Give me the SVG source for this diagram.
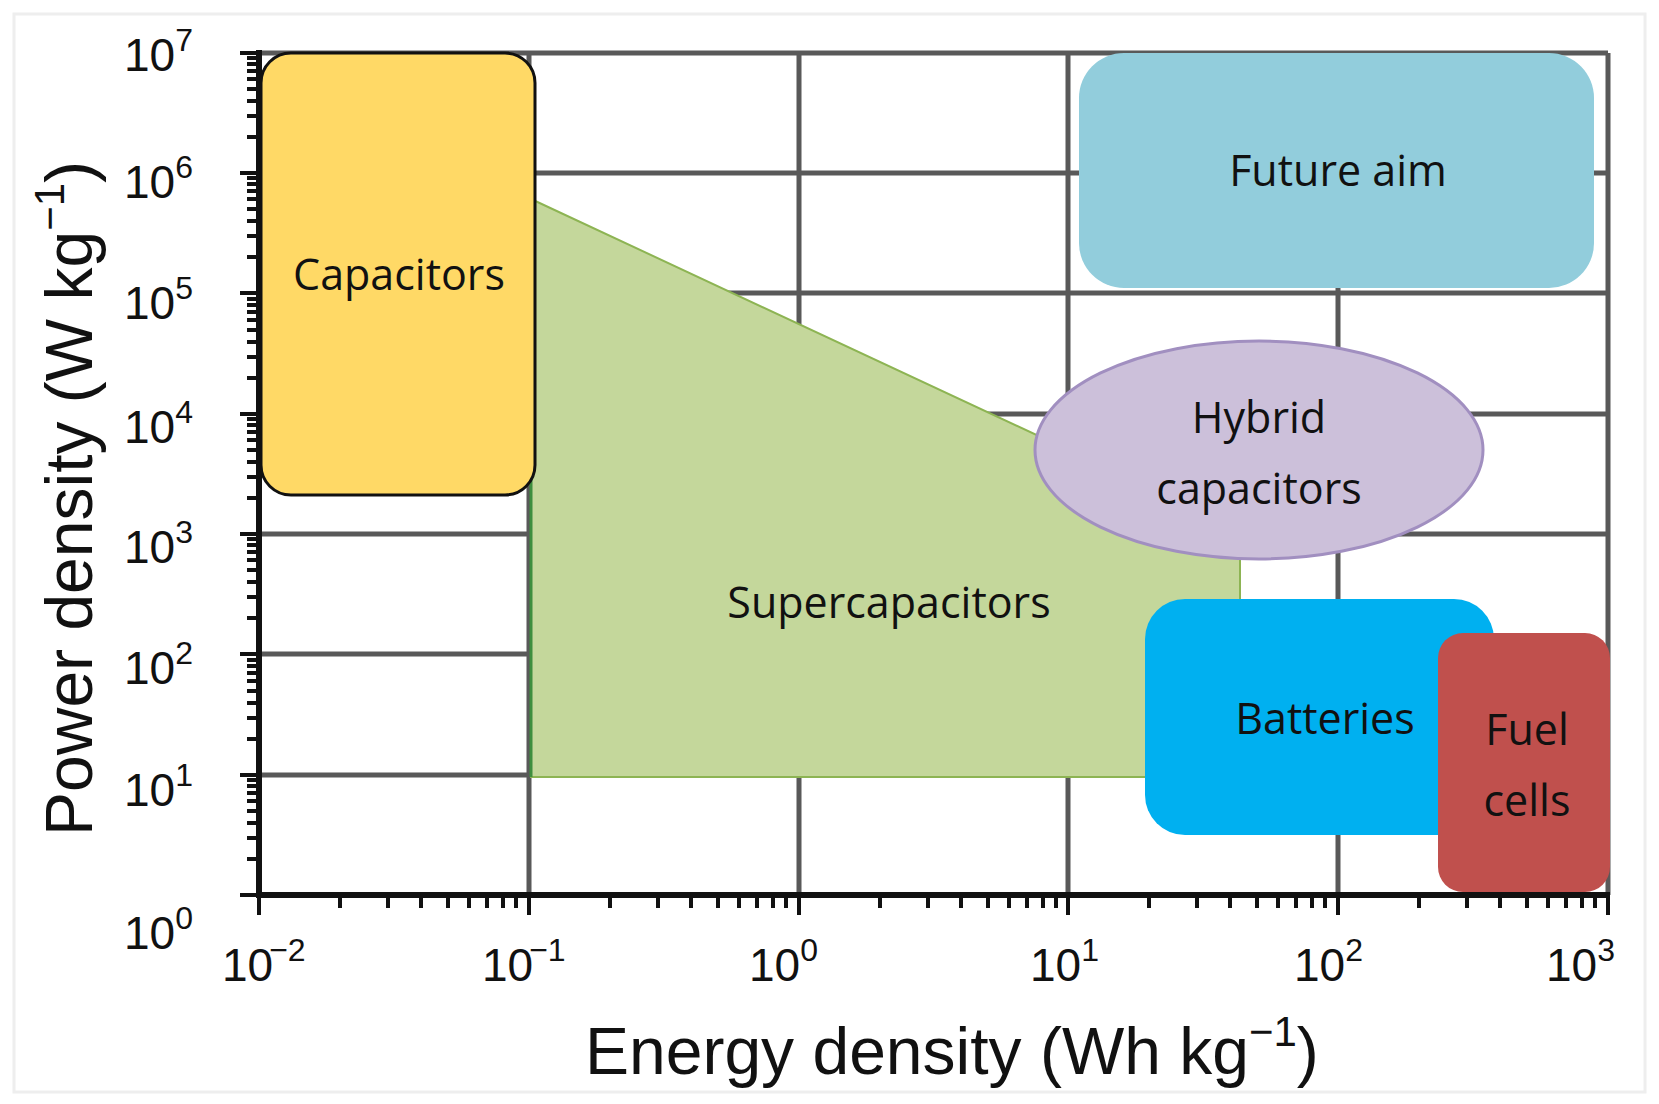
<svg xmlns="http://www.w3.org/2000/svg" width="1659" height="1104" viewBox="0 0 1659 1104">
<style>
.grid{stroke:#595959;stroke-width:5;fill:none}
.axis{stroke:#111;stroke-width:6;fill:none}
.tick{stroke:#111;stroke-width:4;fill:none}
.lbl{font-family:"Open Sans","Noto Sans",sans-serif;font-size:43px;fill:#111;text-anchor:middle}
.num{font-family:"Liberation Sans",Arial,sans-serif;font-size:46px;fill:#111}
.sup{font-size:32px}
.title{font-family:"Liberation Sans",Arial,sans-serif;font-size:66px;fill:#111}
</style>
<rect x="0" y="0" width="1659" height="1104" fill="#fff"/>
<rect x="14" y="14" width="1631" height="1078" fill="none" stroke="#eee" stroke-width="3"/>
<g id="grid">
<path class="grid" d="M529 53V895M799 53V895M1068 53V895M1338 53V895M1608 53V895M259 53H1608M259 173H1608M259 293H1608M259 414H1608M259 534H1608M259 654H1608M259 775H1608"/>
<path class="axis" d="M259 50V898M256 895H1610"/>
<path class="tick" d="M259 895v20M529 895v20M799 895v20M1068 895v20M1338 895v20M1608 895v20
M340 895v13M388 895v13M421 895v13M448 895v13M469 895v13M487 895v13M503 895v13M516 895v13
M610 895v13M658 895v13M691 895v13M718 895v13M739 895v13M757 895v13M773 895v13M786 895v13
M880 895v13M928 895v13M961 895v13M988 895v13M1009 895v13M1027 895v13M1043 895v13M1056 895v13
M1149 895v13M1197 895v13M1230 895v13M1257 895v13M1278 895v13M1296 895v13M1312 895v13M1325 895v13
M1419 895v13M1467 895v13M1500 895v13M1527 895v13M1548 895v13M1566 895v13M1582 895v13M1595 895v13
M240 895h19M240 775h19M240 654h19M240 534h19M240 414h19M240 293h19M240 173h19M240 53h19
M247 859h12M247 838h12M247 823h12M247 811h12M247 801h12M247 793h12M247 786h12M247 780h12
M247 739h12M247 718h12M247 703h12M247 691h12M247 681h12M247 673h12M247 666h12M247 660h12
M247 618h12M247 597h12M247 582h12M247 570h12M247 560h12M247 552h12M247 545h12M247 539h12
M247 498h12M247 477h12M247 462h12M247 450h12M247 440h12M247 432h12M247 425h12M247 419h12
M247 378h12M247 357h12M247 342h12M247 330h12M247 320h12M247 312h12M247 305h12M247 299h12
M247 257h12M247 236h12M247 221h12M247 209h12M247 199h12M247 191h12M247 184h12M247 178h12
M247 137h12M247 116h12M247 101h12M247 89h12M247 79h12M247 71h12M247 64h12M247 58h12"/>
</g>
<g id="supercapacitors">
<polygon points="531,199 1240,530 1240,777 531,777" fill="#C4D79B" stroke="#8DB453" stroke-width="2"/>
<path d="M531 199V777" stroke="#3E8E3E" stroke-width="3"/>
<text class="lbl" x="889" y="618">Supercapacitors</text>
</g>
<g id="capacitors">
<rect x="261" y="53" width="274" height="442" rx="30" fill="#FFD966" stroke="#111" stroke-width="3"/>
<text class="lbl" x="399" y="290">Capacitors</text>
</g>
<g id="future-aim">
<rect x="1079" y="53" width="515" height="235" rx="45" fill="#92CDDC"/>
<text class="lbl" x="1338" y="186">Future aim</text>
</g>
<g id="hybrid-capacitors">
<ellipse cx="1259" cy="450" rx="224" ry="109" fill="#CCC0DA" stroke="#A18FC0" stroke-width="3"/>
<text class="lbl" x="1259" y="433">Hybrid</text>
<text class="lbl" x="1259" y="504">capacitors</text>
</g>
<g id="batteries">
<rect x="1145" y="599" width="349" height="236" rx="40" fill="#00B0F0"/>
<text class="lbl" x="1325" y="734">Batteries</text>
</g>
<g id="fuel-cells">
<rect x="1438" y="633" width="172" height="259" rx="25" fill="#C0504D"/>
<text class="lbl" x="1527" y="745">Fuel</text>
<text class="lbl" x="1527" y="816">cells</text>
</g>
<g id="y-labels">
<text class="num" x="124" y="71">10<tspan class="sup" dy="-20">7</tspan></text>
<text class="num" x="124" y="198">10<tspan class="sup" dy="-20">6</tspan></text>
<text class="num" x="124" y="319">10<tspan class="sup" dy="-20">5</tspan></text>
<text class="num" x="124" y="443">10<tspan class="sup" dy="-20">4</tspan></text>
<text class="num" x="124" y="563">10<tspan class="sup" dy="-20">3</tspan></text>
<text class="num" x="124" y="684">10<tspan class="sup" dy="-20">2</tspan></text>
<text class="num" x="124" y="806">10<tspan class="sup" dy="-20">1</tspan></text>
<text class="num" x="124" y="949">10<tspan class="sup" dy="-20">0</tspan></text>
</g>
<g id="x-labels">
<text class="num" x="222" y="981">10<tspan class="sup" dx="-4" dy="-20">−2</tspan></text>
<text class="num" x="482" y="981">10<tspan class="sup" dx="-4" dy="-20">−1</tspan></text>
<text class="num" x="749" y="981">10<tspan class="sup" dy="-20">0</tspan></text>
<text class="num" x="1030" y="981">10<tspan class="sup" dy="-20">1</tspan></text>
<text class="num" x="1294" y="981">10<tspan class="sup" dy="-20">2</tspan></text>
<text class="num" x="1546" y="981">10<tspan class="sup" dy="-20">3</tspan></text>
</g>
<g id="axis-titles">
<text class="title" x="585" y="1074">Energy density (Wh kg<tspan font-size="42" dy="-28">−1</tspan><tspan dy="28">)</tspan></text>
<text class="title" transform="translate(92,836) rotate(-90)" x="0" y="0">Power density (W kg<tspan font-size="42" dy="-28">−1</tspan><tspan dy="28">)</tspan></text>
</g>
</svg>
